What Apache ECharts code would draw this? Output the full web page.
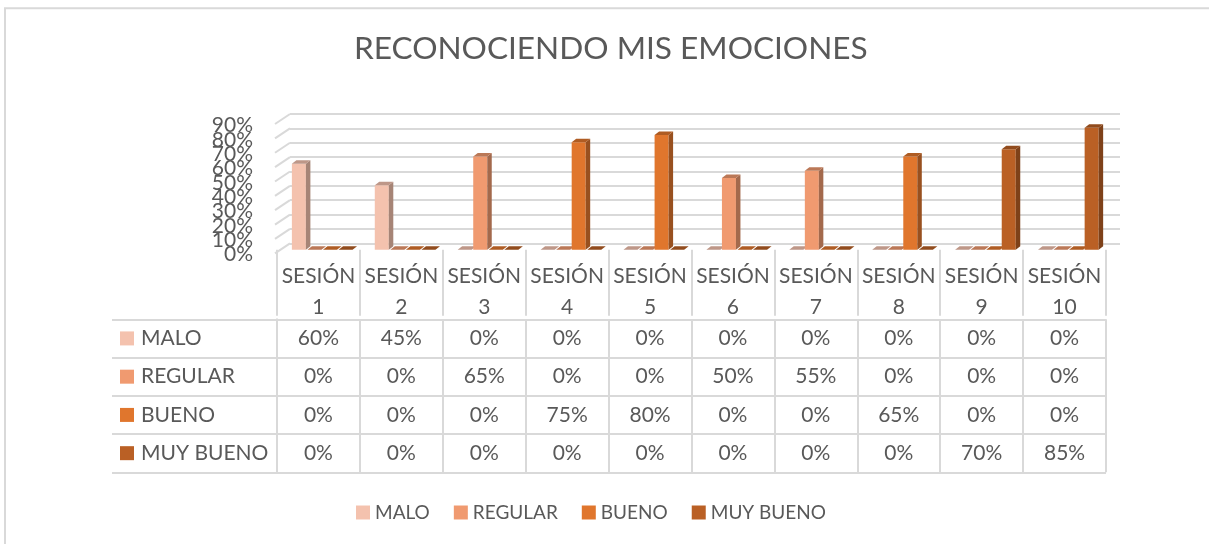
<!DOCTYPE html>
<html>
<head>
<meta charset="utf-8">
<script src="https://cdn.jsdelivr.net/npm/echarts@6/dist/echarts.min.js"></script>
<style>
  html, body { margin: 0; padding: 0; background: #ffffff; }
  #chart { width: 1209px; height: 544px; }
</style>
</head>
<body>
<div id="chart"></div>
<script>
// ---- data ----
const title = 'RECONOCIENDO MIS EMOCIONES';
const categories = ['SESIÓN 1', 'SESIÓN 2', 'SESIÓN 3', 'SESIÓN 4', 'SESIÓN 5',
                    'SESIÓN 6', 'SESIÓN 7', 'SESIÓN 8', 'SESIÓN 9', 'SESIÓN 10'];
const seriesNames = ['MALO', 'REGULAR', 'BUENO', 'MUY BUENO'];
const malo     = [0.60, 0.45, 0, 0, 0, 0, 0, 0, 0, 0];
const regular  = [0, 0, 0.65, 0, 0, 0.50, 0.55, 0, 0, 0];
const bueno    = [0, 0, 0, 0.75, 0.80, 0, 0, 0.65, 0, 0];
const muyBueno = [0, 0, 0, 0, 0, 0, 0, 0, 0.70, 0.85];
const yTicks   = [0, 0.1, 0.2, 0.3, 0.4, 0.5, 0.6, 0.7, 0.8, 0.9];

// ---- styling ----
const seriesValues = [malo, regular, bueno, muyBueno];
const colors = ['#F4C2AE', '#F09A70', '#E0762D', '#BA6025'];
const FONT = 'Lato';
const TEXT = '#595959';
const LINE = '#D9D9D9';

function shade(hex, f) {
  const n = parseInt(hex.slice(1), 16);
  const r = Math.round(((n >> 16) & 255) * f);
  const g = Math.round(((n >> 8) & 255) * f);
  const b = Math.round((n & 255) * f);
  return 'rgb(' + r + ',' + g + ',' + b + ')';
}
const pct = v => Math.round(v * 100) + '%';

const chart = echarts.init(document.getElementById('chart'), null, { renderer: 'canvas' });

// 3D-looking column
function barRenderer(si) {
  return function (params, api) {
    const c = api.value(0), v = api.value(1);
    const base = api.coord([c, 0]);
    const top = api.coord([c, v]);
    const band = api.size([1, 0])[0];
    const w = band * 0.169;
    const x0 = base[0] - band * 0.3205 + band * 0.1876 * si;
    const dx = 4.5, dy = 3.5;
    const col = colors[si];
    const children = [];
    if (base[1] - top[1] > 0.5) {
      children.push({
        type: 'rect',
        shape: { x: x0, y: top[1], width: w, height: base[1] - top[1] },
        style: { fill: col }
      });
      children.push({
        type: 'polygon',
        shape: { points: [[x0 + w, top[1]], [x0 + w + dx, top[1] - dy], [x0 + w + dx, base[1] - dy], [x0 + w, base[1]]] },
        style: { fill: shade(col, 0.68) }
      });
    }
    children.push({
      type: 'polygon',
      shape: { points: [[x0, top[1]], [x0 + dx, top[1] - dy], [x0 + w + dx, top[1] - dy], [x0 + w, top[1]]] },
      style: { fill: shade(col, 0.78) }
    });
    return { type: 'group', children: children };
  };
}

const barSeries = seriesNames.map((name, si) => ({
  type: 'custom',
  name: name,
  xAxisIndex: 0,
  yAxisIndex: 0,
  itemStyle: { color: colors[si] },
  renderItem: barRenderer(si),
  encode: { x: 0, y: 1 },
  data: categories.map((c, ci) => [ci, seriesValues[si][ci]]),
  z: 5
}));

// table cells
const cellData = [];
seriesValues.forEach((arr, si) => arr.forEach((v, ci) => cellData.push([ci, si, v])));

const richRow = { t: { fontFamily: FONT, fontSize: 21, color: TEXT, padding: [0, 0, 0, 7] } };
colors.forEach((c, i) => { richRow['s' + i] = { width: 14, height: 14, backgroundColor: c }; });

const option = {
  backgroundColor: '#ffffff',
  animation: false,
  title: {
    text: title,
    left: 354,
    top: 28,
    padding: [5, 0, 5, 0],
    textStyle: { fontFamily: FONT, fontWeight: 'normal', fontSize: 31.6, color: TEXT }
  },
  legend: {
    data: seriesNames,
    left: 356,
    top: 498,
    icon: 'rect',
    itemWidth: 14,
    itemHeight: 14,
    itemGap: 24,
    padding: [5, 0, 5, 0],
    textStyle: { fontFamily: FONT, fontSize: 19, color: TEXT }
  },
  grid: [
    // front plane of the columns
    { left: 277, right: 103, top: 120.7, height: 129 },
    // back wall
    { left: 290, right: 89, top: 114, height: 129.3 },
    // data table body
    { left: 277, right: 103, top: 319.3, height: 153 }
  ],
  xAxis: [
    {
      gridIndex: 0, type: 'category', data: categories, offset: 3,
      axisLine: { show: false },
      axisTick: { show: true, length: 66, interval: 0, lineStyle: { color: LINE, width: 2 } },
      axisLabel: {
        interval: 0, margin: 8, lineHeight: 31,
        fontFamily: FONT, fontSize: 21, color: TEXT,
        formatter: v => v.replace(' ', '\n')
      },
      splitLine: { show: false }
    },
    { gridIndex: 1, type: 'value', min: 0, max: 1, show: false },
    {
      gridIndex: 2, type: 'category', data: categories, position: 'top',
      axisLine: { show: false }, axisTick: { show: false }, axisLabel: { show: false },
      splitLine: { show: true, interval: 0, lineStyle: { color: LINE, width: 2 } }
    }
  ],
  yAxis: [
    {
      gridIndex: 0, type: 'value', min: 0, max: 0.9, interval: 0.1,
      axisLine: { show: false }, axisTick: { show: false }, splitLine: { show: false },
      axisLabel: { show: false }
    },
    {
      gridIndex: 1, type: 'value', min: 0, max: 0.9, interval: 0.1,
      axisLine: { show: false }, axisTick: { show: false }, axisLabel: { show: false },
      splitLine: { show: true, lineStyle: { color: LINE, width: 2 } }
    },
    {
      gridIndex: 2, type: 'category', data: seriesNames, inverse: true,
      axisLine: { show: true, lineStyle: { color: LINE, width: 2 } },
      axisTick: { show: true, length: 165, interval: 0, lineStyle: { color: LINE, width: 2 } },
      axisLabel: {
        interval: 0, align: 'left', margin: 157,
        formatter: (v, i) => '{s' + i + '|}{t|' + v + '}',
        rich: richRow
      },
      splitLine: { show: true, interval: 0, lineStyle: { color: LINE, width: 2 } }
    },
    {
      gridIndex: 2, type: 'category', data: seriesNames, inverse: true, offset: 165,
      axisLine: { show: true, lineStyle: { color: LINE, width: 2 } },
      axisTick: { show: false }, axisLabel: { show: false }
    }
  ],
  series: barSeries.concat([
    {
      // value-axis tick labels (all shown, overlapping as in the original)
      type: 'custom',
      name: 'ylabels',
      xAxisIndex: 0, yAxisIndex: 0,
      silent: true,
      data: yTicks.map(v => [0, v]),
      encode: { x: 0, y: 1 },
      renderItem: function (params, api) {
        const p = api.coord([0, api.value(1)]);
        return {
          type: 'text',
          x: params.coordSys.x - 24, y: p[1] + 5,
          style: {
            text: pct(api.value(1)),
            fontFamily: FONT, fontSize: 21, fill: TEXT,
            align: 'right', verticalAlign: 'middle'
          }
        };
      },
      z: 3
    },
    {
      type: 'custom',
      name: 'wall',
      xAxisIndex: 1, yAxisIndex: 1,
      silent: true,
      data: yTicks.map(v => [0, v]),
      encode: { x: 0, y: 1 },
      renderItem: function (params, api) {
        const p = api.coord([0, api.value(1)]);
        return {
          type: 'line',
          shape: { x1: p[0] - 15, y1: p[1] + 10, x2: p[0], y2: p[1] },
          style: { stroke: LINE, lineWidth: 2 }
        };
      },
      z: 1
    },
    {
      type: 'custom',
      name: 'table',
      xAxisIndex: 2, yAxisIndex: 2,
      silent: true,
      data: cellData,
      encode: { x: 0, y: 1 },
      renderItem: function (params, api) {
        const p = api.coord([api.value(0), api.value(1)]);
        return {
          type: 'text',
          x: p[0], y: p[1],
          style: {
            text: pct(api.value(2)),
            fontFamily: FONT, fontSize: 21, fill: TEXT,
            align: 'center', verticalAlign: 'middle'
          }
        };
      }
    }
  ]),
  graphic: [
    {
      type: 'rect', silent: true, z: 100,
      shape: { x: 5, y: 8.3, width: 1230, height: 560 },
      style: { fill: null, stroke: LINE, lineWidth: 2 }
    }
  ]
};

chart.setOption(option);
</script>
</body>
</html>
